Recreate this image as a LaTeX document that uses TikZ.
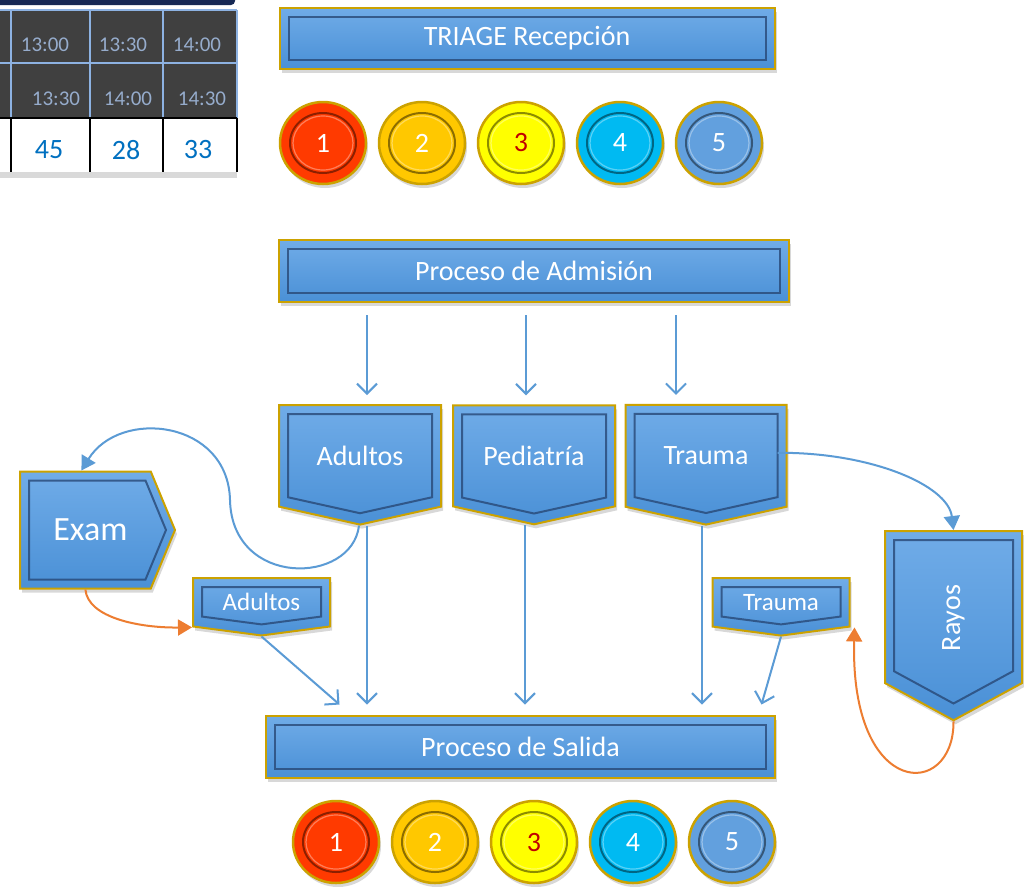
\documentclass[tikz,border=0pt]{standalone}
\usepackage{fontspec}
\setmainfont{Carlito}
\usetikzlibrary{positioning,shapes.symbols,shapes.geometric,shadows,arrows.meta}

\definecolor{boxtop}{RGB}{112,172,232}
\definecolor{boxbot}{RGB}{74,144,214}
\definecolor{gold}{RGB}{204,162,0}
\definecolor{bevel}{RGB}{40,72,118}
\definecolor{flowblue}{RGB}{91,155,213}
\definecolor{floworange}{RGB}{237,125,49}
\definecolor{lvl1}{RGB}{255,58,0}
\definecolor{lvl2}{RGB}{255,200,0}
\definecolor{lvl3}{RGB}{255,255,0}
\definecolor{lvl4}{RGB}{0,186,242}
\definecolor{lvl5}{RGB}{98,160,222}
\definecolor{lvl3text}{RGB}{192,0,0}
\definecolor{celldark}{RGB}{64,64,64}
\definecolor{cellline}{RGB}{141,178,226}
\definecolor{celltext}{RGB}{150,172,204}
\definecolor{countblue}{RGB}{0,112,192}
\definecolor{navy}{RGB}{22,40,84}

\begin{document}
\begin{tikzpicture}[x=1pt,y=-1pt,node distance=99pt,on grid,
  bluefill/.style={top color=boxtop,bottom color=boxbot,draw=gold,line width=2pt,text=white,
    drop shadow={shadow xshift=2pt,shadow yshift=-4pt,opacity=.3}},
  bar/.style={bluefill,rectangle,font=\fontsize{28}{32}\selectfont,
    path picture={\draw[bevel,line width=2pt,draw opacity=.8]
      ([shift={(9pt,-9pt)}]path picture bounding box.north west) rectangle
      ([shift={(-9pt,9pt)}]path picture bounding box.south east);}},
  pent/.style={bluefill,signal,signal to=south,signal pointer angle=#1},
  pentin/.style={signal,signal to=south,signal pointer angle=#1,draw=bevel,line width=2pt,draw opacity=.8},
  coin/.style={ellipse,minimum width=86pt,minimum height=82pt,fill=#1,draw=gold,line width=2.5pt,
    text=white,font=\fontsize{28}{32}\selectfont,
    drop shadow={shadow xshift=2pt,shadow yshift=-4pt,opacity=.3},
    path picture={\draw[black,opacity=.45,line width=2pt] (path picture bounding box.center) ellipse [x radius=33pt,y radius=30pt];
      \draw[white,opacity=.35,line width=1.2pt] (path picture bounding box.center) ellipse [x radius=30pt,y radius=27pt];}},
  time/.style={text=celltext,font=\fontsize{21}{24}\selectfont},
  count/.style={text=countblue,font=\fontsize{28}{32}\selectfont},
  flow/.style={draw=flowblue,line width=2pt,-{Straight Barb[length=10pt,width=20pt]}},
  hit/.style={draw=flowblue,line width=2pt,-{Triangle[length=14pt,width=16pt]}},
  back/.style={draw=floworange,line width=2pt,-{Triangle[length=14pt,width=16pt]}}]
   \fill[white] (0,0) rectangle (1024,886);
   \useasboundingbox (0,0) rectangle (1024,886);

   % time table, cut at the page edge
   \fill[navy,rounded corners=4pt] (-10,-10) rectangle (235,5);
   \fill[celldark] (0,10) rectangle (237,118);
   \draw[cellline,line width=2pt] (0,10) -- (237,10) (0,63) -- (237,63)
      (11,10) -- (11,118) (90,10) -- (90,118) (163,10) -- (163,118) (237,10) -- (237,118);
   \fill[black!15] (0,172) rectangle (237,178);
   \draw[black,line width=2.5pt] (0,118) -- (237,118) (11,118) -- (11,172) (90,118) -- (90,172)
      (163,118) -- (163,172) (237,118) -- (237,172);
   \node[time] (h1) at (45,45) {13:00};
   \node[time] (h2) at (123,45) {13:30};
   \node[time] (h3) at (197,45) {14:00};
   \node[time] (g1) at (56,99) {13:30};
   \node[time] (g2) at (128,99) {14:00};
   \node[time] (g3) at (202,99) {14:30};
   \node[count] (n1) at (49,150) {45};
   \node[count] (n2) at (126,150) {28};
   \node[count] (n3) at (198,150) {33};

   \node[bar,minimum width=495pt,minimum height=61pt] (triage) at (527,38) {TRIAGE Recepción};
   \node[coin=lvl1] (t1) at (323,143) {1};
   \node[coin=lvl2] (t2) [right=of t1] {2};
   \node[coin=lvl3,text=lvl3text] (t3) [right=of t2] {3};
   \node[coin=lvl4] (t4) [right=of t3] {4};
   \node[coin=lvl5] (t5) [right=of t4] {5};

   \node[bar,minimum width=510pt,minimum height=62pt] (adm) at (534,271) {Proceso de Admisión};

   \node[pent=155,minimum width=162pt,minimum height=112pt,anchor=north,font=\fontsize{28}{32}\selectfont] (adu) at (360,404) {Adultos};
   \node[pent=155,minimum width=162pt,minimum height=113pt,font=\fontsize{28}{32}\selectfont] (ped) [right=174pt of adu] {Pediatría};
   \node[pent=155,minimum width=161pt,minimum height=112pt,font=\fontsize{28}{32}\selectfont] (tra) [right=172pt of ped] {Trauma};

   \node[bluefill,signal,signal to=east,signal pointer angle=135,minimum width=155pt,minimum height=117pt,
      anchor=west,font=\fontsize{34}{40}\selectfont] (exam) at (19,530) {\hspace*{10pt}Exam};
   \node[signal,signal to=east,signal pointer angle=135,minimum width=137pt,minimum height=99pt,
      anchor=west,draw=bevel,line width=2pt,draw opacity=.8] (exam-in) at ([xshift=9pt]exam.west) {};
   \node[pent=123,minimum width=137pt,minimum height=160pt,anchor=north,font=\fontsize{28}{32}\selectfont] (rayos) at (953.5,530) {\rotatebox{90}{Rayos\hspace*{22pt}}};
   \node[pent=165,minimum width=137pt,minimum height=54pt,anchor=north,font=\fontsize{25}{30}\selectfont] (adusm) at (261.5,577) {Adultos};
   \node[pent=165,minimum width=137pt,minimum height=54pt,anchor=north,font=\fontsize{25}{30}\selectfont] (trasm) at (781,577) {Trauma};
   \foreach \n/\a/\w/\h in {adu/155/144/84,ped/155/144/84,tra/155/143/84,rayos/123/119/133,adusm/165/119/30,trasm/165/119/30}
      \node[pentin=\a,minimum width=\w pt,minimum height=\h pt,anchor=north] (\n-in) at ([yshift=-9pt]\n.north) {};

   \node[bar,minimum width=509pt,minimum height=62pt] (sal) at (520.5,746.5) {Proceso de Salida};
   \node[coin=lvl1] (s1) at (336,842) {1};
   \node[coin=lvl2] (s2) [right=of s1] {2};
   \node[coin=lvl3,text=lvl3text] (s3) [right=of s2] {3};
   \node[coin=lvl4] (s4) [right=of s3] {4};
   \node[coin=lvl5] (s5) [right=of s4] {5};

   \foreach \n/\dx in {adu/7,ped/-8,tra/-30}
      \draw[flow,shorten <=12pt,shorten >=9pt] ([xshift=\dx pt]\n.north |- adm.south) -- ([xshift=\dx pt]\n.north);
   \foreach \n/\dx in {adu/7,ped/-9,tra/-4}
      \draw[flow,shorten >=10pt] ([xshift=\dx pt]\n.south) -- ([xshift=\dx pt]\n.south |- sal.north);
   \draw[flow] (adusm.south) -- ([xshift=-181pt,yshift=10pt]sal.north);
   \draw[flow] (trasm.south) -- ([xshift=241pt,yshift=10pt]sal.north);
   \draw[hit] ([xshift=-1pt]adu.south) .. controls (352,585) and (232,588) .. (230,500)
      .. controls (228,420) and (120,408) .. ([xshift=-4pt]exam.north);
   \draw[hit] ([xshift=-10pt,yshift=3pt]tra.east) .. controls (870,452) and (948,485) .. (rayos.north);
   \draw[back] (exam.south) .. controls (88,618) and (140,628) .. (adusm.south west);
   \draw[back] (rayos.south) .. controls (954,800) and (850,800) .. ([xshift=4pt]trasm.south east);
\end{tikzpicture}
\end{document}
